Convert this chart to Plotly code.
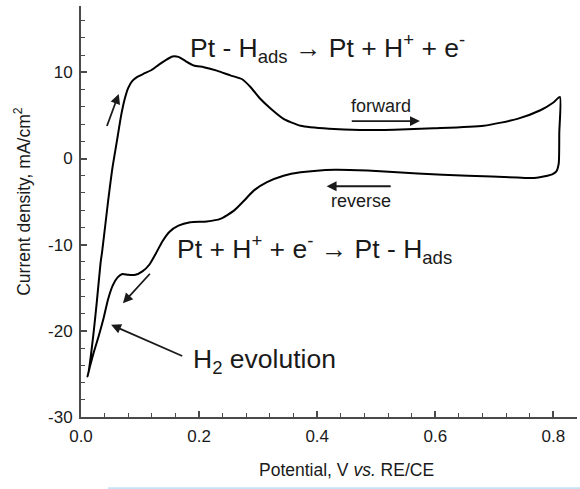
import plotly.graph_objects as go

# Cyclic voltammogram of Pt: forward (anodic) sweep then reverse (cathodic) sweep
forward_potential = [0.011, 0.013, 0.021, 0.027, 0.033, 0.036, 0.046, 0.053, 0.061, 0.068,
                     0.074, 0.080, 0.087, 0.096, 0.108, 0.120, 0.132, 0.143, 0.155, 0.165,
                     0.176, 0.191, 0.208, 0.230, 0.253, 0.273, 0.287, 0.304, 0.321, 0.343,
                     0.372, 0.420, 0.473, 0.530, 0.597, 0.682, 0.739, 0.778, 0.800, 0.811]
forward_current = [-25.3, -24.7, -20.4, -16.5, -12.2, -10.7, -4.9, -1.2, 2.1, 5.0,
                   6.9, 8.2, 9.0, 9.5, 9.9, 10.3, 10.9, 11.4, 11.85, 11.8,
                   11.35, 10.8, 10.6, 10.2, 9.65, 9.2, 8.3, 6.9, 5.8, 4.6,
                   3.8, 3.45, 3.3, 3.35, 3.5, 3.8, 4.6, 5.6, 6.5, 7.15]

reverse_potential = [0.810, 0.809, 0.805, 0.798, 0.790, 0.767, 0.739, 0.655, 0.570, 0.485,
                     0.430, 0.372, 0.343, 0.315, 0.293, 0.276, 0.259, 0.236, 0.213, 0.185,
                     0.165, 0.150, 0.138, 0.127, 0.116, 0.104, 0.092, 0.080, 0.070, 0.062,
                     0.054, 0.046, 0.038, 0.030, 0.022, 0.016, 0.011]
reverse_current = [3.0, -0.6, -1.5, -1.85, -2.0, -2.25, -2.2, -2.0, -1.75, -1.4,
                   -1.3, -1.6, -2.0, -2.75, -3.7, -4.9, -6.05, -7.0, -7.3, -7.4,
                   -7.8, -8.5, -9.6, -11.0, -12.3, -13.1, -13.5, -13.5, -13.4, -13.8,
                   -14.7, -16.3, -18.6, -20.6, -22.4, -23.9, -25.3]

x_tick_vals = [0.0, 0.2, 0.4, 0.6, 0.8]
x_tick_text = ["0.0", "0.2", "0.4", "0.6", "0.8"]
y_tick_vals = [-30, -20, -10, 0, 10]
y_tick_text = ["-30", "-20", "-10", "0", "10"]

FONT = "Liberation Sans, Arial, sans-serif"
INK = "#1a1a1a"
AXIS = "#4a4a4a"

fig = go.Figure()
fig.add_trace(go.Scatter(
    x=forward_potential + reverse_potential,
    y=forward_current + reverse_current,
    mode="lines",
    line=dict(color="black", width=2, shape="spline", smoothing=0.6),
    showlegend=False,
    hoverinfo="skip",
))

axis_common = dict(
    showgrid=False, zeroline=False, showline=True, linecolor=AXIS, linewidth=2,
    ticks="inside", ticklen=6, tickwidth=1.5, tickcolor=AXIS,
    tickfont=dict(family=FONT, size=17, color=INK),
)

fig.update_xaxes(
    range=[0, 0.84], tickmode="array", tickvals=x_tick_vals, ticktext=x_tick_text,
    minor=dict(tickmode="linear", tick0=0, dtick=0.04, ticks="inside", ticklen=4,
               tickwidth=1.2, tickcolor=AXIS),
    ticklabelstandoff=3,
    **axis_common,
)
fig.update_yaxes(
    range=[-30, 17.7], tickmode="array", tickvals=y_tick_vals, ticktext=y_tick_text,
    minor=dict(tickmode="linear", tick0=0, dtick=2, ticks="inside", ticklen=4,
               tickwidth=1.2, tickcolor=AXIS),
    ticklabelstandoff=3,
    **axis_common,
)

annotations = [
    # axis titles
    dict(text="Potential, V <i>vs.</i> RE/CE", xref="paper", yref="paper",
         x=0.535, y=-0.13, xanchor="center", yanchor="middle", showarrow=False,
         font=dict(family=FONT, size=17.5, color=INK)),
    dict(text="Current density, mA/cm<sup>2</sup>", xref="paper", yref="paper",
         x=-0.119, y=0.526, xanchor="center", yanchor="middle", textangle=-90,
         showarrow=False, font=dict(family=FONT, size=17.5, color=INK)),
    # reaction labels
    dict(text="Pt - H<sub>ads</sub> \u2192 Pt + H<sup>+</sup> + e<sup>-</sup>",
         xref="x", yref="y", x=0.181, y=12.8, xanchor="left", yanchor="middle",
         showarrow=False, font=dict(family=FONT, size=26.5, color=INK)),
    dict(text="Pt + H<sup>+</sup> + e<sup>-</sup> \u2192 Pt - H<sub>ads</sub>",
         xref="x", yref="y", x=0.160, y=-10.5, xanchor="left", yanchor="middle",
         showarrow=False, font=dict(family=FONT, size=26.5, color=INK)),
    dict(text="H<sub>2</sub> evolution",
         xref="x", yref="y", x=0.187, y=-23.5, xanchor="left", yanchor="middle",
         showarrow=False, font=dict(family=FONT, size=26.5, color=INK)),
    dict(text="forward", xref="x", yref="y", x=0.508, y=6.1, xanchor="center",
         yanchor="middle", showarrow=False, font=dict(family=FONT, size=18, color=INK)),
    dict(text="reverse", xref="x", yref="y", x=0.474, y=-4.95, xanchor="center",
         yanchor="middle", showarrow=False, font=dict(family=FONT, size=18, color=INK)),
]

# direction arrows: (tail x, tail y, head x, head y)
arrows = [
    (0.043, 3.6, 0.064, 7.5),
    (0.119, -13.2, 0.071, -16.8),
    (0.174, -23.0, 0.051, -19.3),
    (0.456, 4.34, 0.574, 4.34),
    (0.527, -3.22, 0.416, -3.22),
]
for tx, ty, hx, hy in arrows:
    annotations.append(dict(
        x=hx, y=hy, ax=tx, ay=ty, xref="x", yref="y", axref="x", ayref="y",
        text="", showarrow=True, arrowhead=2, arrowsize=1.1, arrowwidth=1.8,
        arrowcolor=INK,
    ))

fig.update_layout(
    width=580, height=489,
    margin=dict(l=81, r=3, t=6, b=72),
    paper_bgcolor="white", plot_bgcolor="white",
    annotations=annotations,
    shapes=[dict(type="line", xref="paper", yref="paper",
                 x0=0.055, x1=1.01, y0=-0.1735, y1=-0.1735,
                 line=dict(color="#c6e2f5", width=2))],
)

fig.write_html("out.html")
